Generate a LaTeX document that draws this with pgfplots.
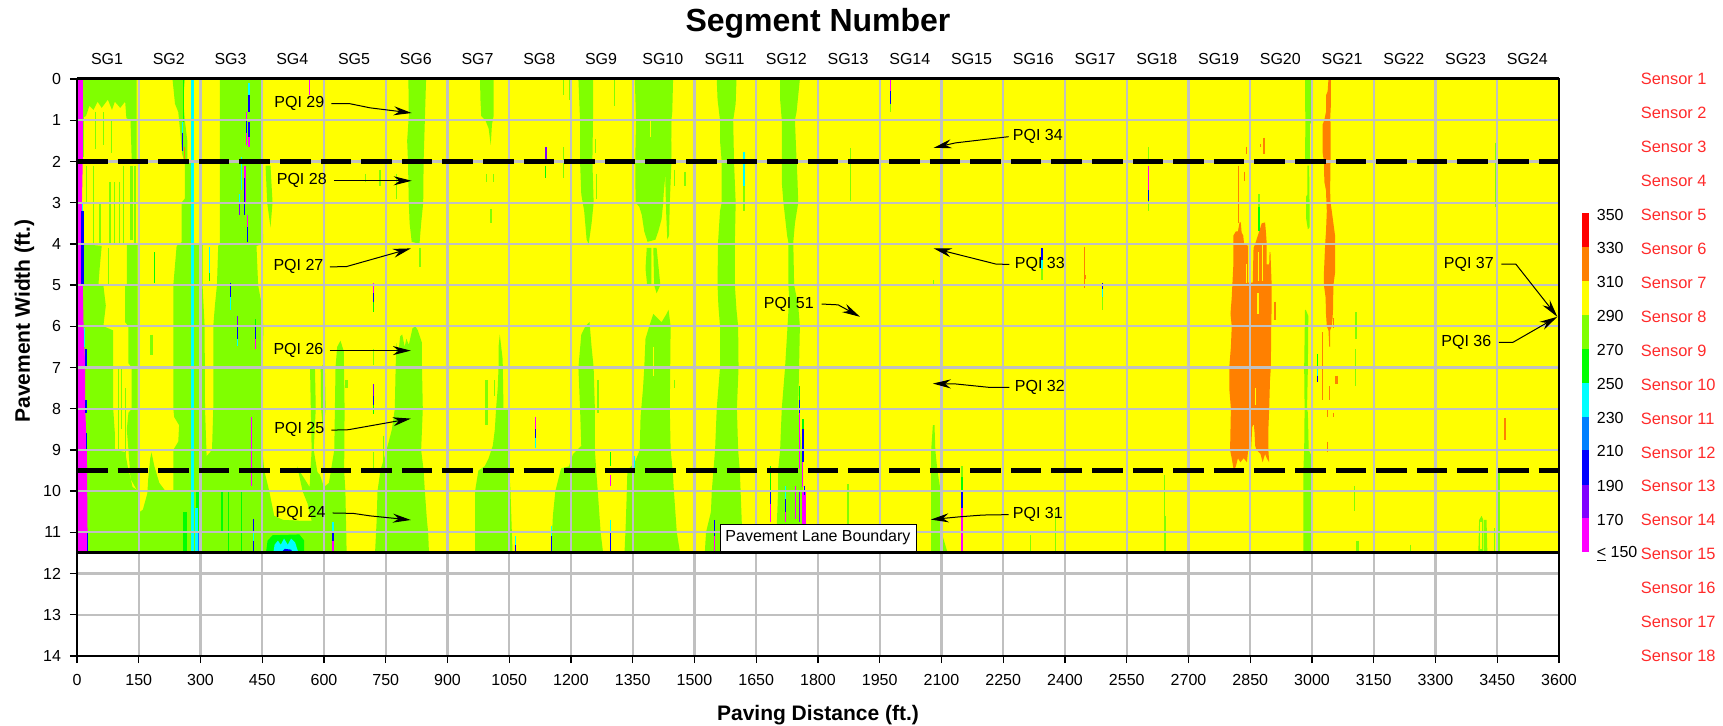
\documentclass[border=0pt]{standalone}
\usepackage{fontspec}
\setmainfont{Liberation Sans}
\usepackage{pgfplots}
\pgfplotsset{compat=1.18}
\usetikzlibrary{arrows.meta}

\definecolor{cLime}{HTML}{80FF00}
\definecolor{cGreen}{HTML}{00FF00}
\definecolor{cCyan}{HTML}{00FFFF}
\definecolor{cAzure}{HTML}{0080FF}
\definecolor{cBlue}{HTML}{0000FF}
\definecolor{cViolet}{HTML}{8000FF}
\definecolor{cMag}{HTML}{FF00FF}
\definecolor{cOrange}{HTML}{FF8000}
\definecolor{cYellow}{HTML}{FFFF00}
\definecolor{cRed}{HTML}{FF0000}
\definecolor{cSensor}{HTML}{FF2A2A}
\definecolor{cGrid}{HTML}{C0C0C0}

\newcommand{\tf}{\fontsize{8}{9}\selectfont}
% filled temperature zone
\newcommand{\zone}[2]{\addplot[fill=#1,draw=none,forget plot] coordinates {#2} --cycle;}
% thin vertical streak: colour, x, y from, y to
\newcommand{\st}[4]{\addplot[draw=#1,line width=.6pt,forget plot] coordinates {(#2,#3)(#2,#4)};}
\newcommand{\wst}[4]{\addplot[draw=#1,line width=1.3pt,forget plot] coordinates {(#2,#3)(#2,#4)};}
\newcommand{\pqi}[3]{\node[font=\tf] at (axis cs:#1,#2) {PQI #3};}

\begin{document}
\begin{tikzpicture}
\path[use as bounding box] (-38.5pt,-35pt) rectangle (823pt,328pt);
\begin{axis}[
    scale only axis, width=741pt, height=288.5pt,
    xmin=0, xmax=3600, ymin=0, ymax=14, y dir=reverse,
    xtick distance=150, ytick distance=1,
    tick align=outside, xtick pos=bottom, ytick pos=left,
    major tick length=3.5pt,
    tick style={black,line width=.7pt},
    grid=major, grid style={cGrid,line width=1.1pt},
    axis on top, axis line style={black,line width=1pt},
    /pgf/number format/assume math mode=true,
    /pgf/number format/1000 sep={},
    tick label style={font=\tf},
    xticklabel style={yshift=-2pt},
    yticklabel style={xshift=-1pt},
    title={Segment Number},
    title style={at={(axis description cs:.5,1.097)},anchor=center,yshift=-6pt,font=\fontsize{16}{18}\selectfont\bfseries},
    xlabel={Paving Distance (ft.)},
    xlabel style={at={(axis description cs:.5,-.1023)},anchor=center,font=\fontsize{10.5}{12}\selectfont\bfseries},
    ylabel={Pavement Width (ft.)},
    ylabel style={at={(axis description cs:-.0355,.5806)},anchor=center,font=\fontsize{10.5}{12}\selectfont\bfseries},
]
\zone{cYellow}{(0,0)(3600,0)(3600,11.5)(0,11.5)}

% SG1 - SG3
\zone{cLime}{(11,0)(145,0)(145,2)(133,2)(130,1)(120,.95)(117,.55)(105,.7)(92,.55)(85,.75)(75,.5)(60,.7)(50,.55)(40,.75)(30,.65)(22,.9)(11,.95)}
\zone{cLime}{(10,4)(60,4.05)(55,4.6)(52,5)(64,5)(70,5.5)(64,6)(88,6.1)(88,8)(92,8.6)(92,9)(117,9.05)(125,9.5)(128,9.6)(135,9.9)(150,10)(153,10.5)(160,10.45)(171,10.05)(173,9.7)(178,9.2)(181,9.06)(188,9.4)(200,9.8)(215,10)(236,10)(236,11.5)(10,11.5)}
\zone{cLime}{(121,4)(147,4)(147,10)(130,9.7)(125,9)(121,8.5)(125,8.1)(133,8)(133,7)(125,6.9)(125,6)(117,5.9)(117,5)(121,5)}
\zone{cLime}{(232,0)(262,0)(258,.5)(262,1)(268,1.5)(268,2)(279,2)(279,11.5)(234,11.5)(234,9)(246,8.8)(248,8.4)(236,8.2)(234,8)(234,5)(242,4.05)(254,3.96)(254,3)(262,2.9)(262,2.05)(255,1.8)(250,1.2)(246,.8)(238,.6)}
\zone{cLime}{(279,4)(305,4)(305,5)(310,6)(311,8)(315,9.2)(315,11.5)(279,11.5)}
\zone{cLime}{(347,0)(449,0)(452,4)(436,4.05)(440,5)(449,5.5)(453,6.1)(449,7)(450,9)(455,9.5)(467,10)(479,10.6)(501,10.7)(540,10.72)(570,10.72)(570,11.5)(300,11.5)(300,9.1)(315,9.15)(328,9)(331,8)(331,6)(335,5.5)(340,5)(343,4.05)(347,4)}
\zone{cLime}{(458,2.1)(470,2.1)(475,3)(470,3.6)(462,3)}
% SG4 - SG5
\zone{cLime}{(535,9.4)(540,9.5)(565,9.9)(580,9.5)(590,9.6)(600,9.9)(612,9.8)(625,9)(628,7)(632,6.5)(640,6.35)(648,6.6)(650,8)(649,9.5)(652,10)(655,11.5)(480,11.5)(480,10.7)(501,10.7)(542,10.72)(570,10.72)(560,10.3)(548,10)}
\zone{cLime}{(566,7)(578,7)(580,8)(575,9)(585,9.6)(565,9.9)(570,9)}
\zone{cLime}{(592,7)(602,6.9)(604,8)(598,8.6)(593,8)}
\zone{cGreen}{(459,11.5)(463,11.2)(475,11.07)(540,11.05)(552,11.2)(552,11.5)}
\zone{cCyan}{(477,11.5)(480,11.3)(488,11.2)(495,11.3)(503,11.15)(512,11.3)(520,11.15)(530,11.25)(538,11.5)}
\zone{cBlue}{(495,11.5)(505,11.4)(520,11.42)(525,11.5)}
% SG6
\zone{cLime}{(805,0)(848,0)(845,1)(842,2)(841,3)(836,3.5)(832,4)(813,3.95)(808,3.5)(806,3)(804,2)(802,1.5)(806,.9)}
\zone{cLime}{(776,6.4)(780,6.7)(785,6.25)(790,6.2)(796,6.5)(800,6.3)(806,6.45)(815,6.05)(822,6)(828,6.1)(838,6.4)(838,7)(840,8)(836,9)(842,9.5)(845,10)(850,10.7)(853,11)(855,11.5)(724,11.5)(728,10.7)(730,10)(737,9.5)(752,9)(765,8.5)(772,8)(774,7)}
% SG7
\zone{cLime}{(979,0)(1012,0)(1012,.9)(1008,1.1)(1005,1.6)(1000,1.2)(992,1)(982,.9)(980,.5)}
\zone{cLime}{(1027,6.2)(1034,6.8)(1036,8)(1048,8)(1048,8.5)(1050,9.5)(1053,10)(1058,11.5)(967,11.5)(967,10)(975,9.5)(990,9.4)(1000,9.2)(1010,8.9)(1015,8.5)(1018,8)(1022,7.5)(1024,7)(1024,6.5)}
% SG9
\zone{cLime}{(1218,0)(1254,0)(1254,.6)(1252,2)(1255,3)(1250,3.5)(1243,4)(1238,3.9)(1232,3.2)(1225,2.8)(1222,2)(1222,1)(1220,.5)}
\zone{cLime}{(1218,7)(1225,6.2)(1235,6)(1245,5.9)(1250,6.5)(1255,7)(1258,8)(1258,9)(1262,9.6)(1265,10)(1272,11)(1278,11.5)(1152,11.5)(1156,10.6)(1162,10)(1172,9.6)(1176,9.45)(1195,9.4)(1205,9.1)(1225,8.9)(1222,8)(1220,7.5)}
% SG10
\zone{cLime}{(1355,0)(1448,0)(1446,.8)(1444,1)(1443,1.9)(1432,2)(1425,2.8)(1424,3)(1420,3.4)(1412,3.7)(1405,3.9)(1386,3.95)(1378,3.7)(1372,3.3)(1366,3.1)(1357,3)(1356,2)(1358,1)}
\zone{cLime}{(1426,1)(1443,1)(1444,2)(1440,3)(1438,3.8)(1434,3.9)(1431,3.2)(1428,2)}
\zone{cLime}{(1384,4.1)(1395,4.1)(1395,5)(1385,5)(1381,4.6)}
\zone{cLime}{(1400,4.1)(1408,4.1)(1417,5)(1408,5.2)(1402,5)}
\zone{cLime}{(1390,6)(1400,5.7)(1420,5.9)(1432,5.7)(1437,5.6)(1442,6)(1441,7)(1440,8)(1442,9)(1447,9.5)(1450,10)(1457,11)(1465,11.5)(1330,11.5)(1333,10.8)(1335,10.2)(1337,9.5)(1355,9.3)(1367,9)(1369,8.2)(1375,7.5)(1378,7)(1381,6.3)}
% SG11, SG12
\zone{cLime}{(1554,0)(1602,0)(1600,.6)(1594,1)(1596,2)(1598,2.5)(1600,3)(1598,4)(1598,5)(1602,5.6)(1606,6)(1607,7)(1603,8)(1606,9)(1610,9.5)(1612,10)(1615,10.8)(1618,11.5)(1525,11.5)(1528,11)(1540,10.5)(1542,10)(1546,9.5)(1550,9)(1554,8)(1562,7)(1562,6)(1558,5.5)(1556,5)(1557,4)(1562,3.2)(1566,3)(1566,2)(1562,1.5)(1562,1)(1556,.5)}
\zone{cLime}{(1708,0)(1756,0)(1748,.8)(1744,1)(1748,2)(1750,2.4)(1752,3)(1744,3.5)(1740,3.96)(1742,5)(1752,5.5)(1756,6)(1754,7)(1752,8)(1760,9)(1764,9.5)(1764,11.5)(1695,11.5)(1700,10.8)(1703,10)(1703,9.5)(1708,9)(1712,8)(1720,7)(1726,6)(1730,5.3)(1728,5)(1728,3.96)(1725,3.8)(1716,3)(1712,2.5)(1712,1)(1708,.5)}
% SG14, SG20
\zone{cLime}{(2079,8.4)(2083,8.4)(2085,9)(2090,9.5)(2098,10)(2100,11)(2115,11.5)(2075,11.5)(2075,9)}
\zone{cLime}{(2983,0)(2999,0)(2998,1.05)(2995,1.1)(2995,1.94)(2983,2)(2984,1)(2983,.5)}
\zone{cLime}{(2989,2.1)(2993,2.1)(2994,3)(2994,3.6)(2990,3.65)(2986,3.4)(2986,2.85)(2989,2.8)}
\zone{cLime}{(2983,5.6)(2985,5.6)(2991,5.75)(2990,7)(2988,8)(2990,8.1)(2992,9)(2997,9.1)(2999,10)(2999,11.5)(2979,11.5)(2979,9.5)(2981,9)(2982,8)(2981,7)}
% SG23
\zone{cLime}{(3404,11.5)(3406,10.7)(3412,10.6)(3416,10.7)(3416,11.5)}
\zone{cYellow}{(3408,11.4)(3408,10.75)(3413,10.75)(3413,11.4)}
\zone{cLime}{(3418,10.7)(3424,10.7)(3426,11.5)(3418,11.5)}

% orange zones, SG19 and SG21
\zone{cOrange}{(2824,3.48)(2827,3.48)(2829,3.72)(2833,3.8)(2835,4)(2845,4.05)(2845,4.94)(2856,4.94)(2858,4.1)(2862,4)(2870,3.75)(2878,3.5)(2886,3.48)(2888,3.7)(2890,4)(2890,4.5)(2896,4.5)(2897,4.2)(2899,4.2)(2902,5)(2902,5.5)(2901,6)(2900,7)(2898,7.3)(2896,8)(2894,8.5)(2894,9)(2896,9.3)(2890,9.2)(2886,9.1)(2880,9.3)(2875,9.1)(2865,9)(2862,8.9)(2860,8.5)(2855,8.4)(2852,9)(2845,9)(2842,9.3)(2834,9.2)(2826,9.3)(2820,9.2)(2815,9.4)(2810,9.5)(2805,9.2)(2801,9)(2802,8.5)(2803,8)(2799,7.5)(2799,7)(2803,6.5)(2805,6)(2802,5.7)(2805,5.3)(2809,4.5)(2809,3.8)(2815,3.7)(2820,3.7)}
\zone{cOrange}{(3040,0)(3046,0)(3046,.6)(3044,1)(3045,1.05)(3045,2)(3044,2.7)(3045,3)(3048,3.2)(3052,3.5)(3056,3.8)(3056,4.7)(3052,5)(3051,5.6)(3050,5.8)(3048,6)(3044,6.1)(3044,6.5)(3042,6.5)(3040,6.1)(3036,6)(3034,5.7)(3033,5.3)(3029,5)(3029,4.7)(3032,4)(3034,3.7)(3036,3.2)(3035,3)(3034,2.7)(3030,2.5)(3029,2)(3026,1.8)(3026,1.1)(3030,1)(3034,.8)(3034,.4)(3038,.3)}

% thin lime streaks
\st{cLime}{15}{.8}{1.9} \st{cLime}{44}{.8}{1.7} \st{cLime}{64}{.8}{1.6} \st{cLime}{84}{1}{1.8}
\st{cLime}{23}{2.1}{3} \st{cLime}{40}{2.1}{4} \st{cLime}{56}{3}{4} \wst{cLime}{80}{2.5}{4}
\st{cLime}{92}{2.5}{4} \st{cLime}{104}{2.5}{4} \st{cLime}{113}{2.1}{4} \wst{cLime}{133}{2.1}{3.9}
\wst{cLime}{141}{2.1}{4} \st{cLime}{76}{4.1}{5} \st{cLime}{100}{7}{9} \st{cLime}{108}{7}{8.5}
\st{cLime}{117}{7.5}{9.5} \wst{cLime}{181}{6.2}{6.7} \st{cGreen}{188}{4.2}{4.95}
\st{cLime}{736}{2.2}{2.6} \st{cLime}{776}{2.3}{2.9} \st{cLime}{700}{2.3}{2.5} \st{cLime}{833}{4.1}{4.55}
\st{cLime}{995}{2.3}{2.5} \st{cLime}{1011}{2.3}{2.5} \wst{cLime}{1006}{3.15}{3.5}
\st{cLime}{1181}{1.65}{2.4} \st{cLime}{1181}{0}{.4} \st{cLime}{1197}{0}{.5}
\st{cLime}{720}{6.55}{6.95} \st{cLime}{720}{9.05}{9.45} \wst{cLime}{995}{7.3}{8.4} \st{cLime}{1015}{7.3}{7.7}
\st{cLime}{744}{8.65}{9.47} \wst{cLime}{655}{7.3}{7.5} \st{cLime}{1262}{2.3}{2.9} \st{cLime}{1250}{2.3}{3}
\st{cLime}{1305}{0}{.65} \st{cLime}{1260}{1.45}{1.8} \st{cLime}{1477}{2.25}{2.6} \st{cLime}{1452}{2.2}{2.6}
\wst{cLime}{1266}{7.3}{8.1} \st{cLime}{1452}{7.3}{7.5} \st{cLime}{1879}{1.68}{2.95}
\st{cLime}{1873}{9.83}{10.9} \st{cLime}{2316}{11.07}{11.5} \st{cLime}{2377}{10.5}{11.5}
\st{cLime}{2641}{9.6}{10.6} \wst{cLime}{2643}{10.6}{11.5} \st{cLime}{2080}{4.88}{5}
\wst{cLime}{3107}{5.66}{6.3} \st{cLime}{3105}{6.55}{7.44} \st{cLime}{3104}{9.87}{10.48} \wst{cLime}{3111}{11.2}{11.5}
\st{cLime}{3445}{1.56}{3.1} \st{cLime}{3454}{9.5}{11.5} \st{cLime}{3240}{11.3}{11.5}
\st{cLime}{2492}{5.2}{5.6} \st{cLime}{3444}{10.9}{11.5} \st{cLime}{2100}{10.9}{11.3}
% yellow slits in the zones
\st{cYellow}{2869}{5.2}{5.7} \st{cYellow}{2862}{7.5}{7.9} \st{cYellow}{2840}{4.5}{4.95}
\st{cYellow}{2857}{8.4}{8.9} \st{cYellow}{2870}{4.2}{4.9} \st{cYellow}{2880}{4}{4.9} \st{cYellow}{1400}{6.5}{7.2}
\st{cYellow}{1394}{1}{1.4} \st{cYellow}{312}{3.1}{3.9}

% orange streaks
\st{cOrange}{2822}{2.1}{3.5} \st{cOrange}{2836}{2.25}{2.47} \st{cOrange}{2840}{1.65}{1.82}
\st{cOrange}{2874}{1.58}{1.66} \wst{cOrange}{2883}{1.42}{1.82} \wst{cOrange}{2910}{5.4}{5.85}
\st{cOrange}{3026}{6.15}{7.8} \st{cOrange}{3042}{7.45}{7.8} \st{cOrange}{3038}{8}{8.2} \st{cOrange}{3052}{8.1}{8.2}
\st{cOrange}{3038}{8.8}{9.05} \wst{cOrange}{3060}{7.2}{7.4} \st{cOrange}{3052}{5.8}{6.05} \st{cOrange}{3469}{8.23}{8.76}
\st{cOrange}{2448}{4.07}{5.08} \wst{cOrange}{2449}{4.75}{4.85}

% coloured streaks
\zone{cMag}{(0,0)(14,0)(14,2)(12,3)(12,5)(14,5)(16,6)(20,7)(20,8)(24,9)(26,11.5)(0,11.5)}
\wst{cBlue}{13}{3.2}{5} \st{cCyan}{13}{3}{3.2} \st{cCyan}{19}{6.05}{6.5} \st{cBlue}{22}{6.55}{7}
\st{cBlue}{22}{7.8}{8.1} \st{cBlue}{23}{8.6}{9} \st{cBlue}{26}{11}{11.5}
\zone{cGreen}{(258,10.5)(266,10.5)(266,11.5)(258,11.5)}
\zone{cGreen}{(288,10)(298,10)(298,11.5)(288,11.5)}
\wst{cCyan}{280}{0}{11.5}
\wst{cCyan}{291}{10.4}{11.5} \st{cAzure}{296}{11}{11.5}
\st{cGreen}{258}{0}{1.05} \st{cCyan}{256}{1.05}{1.3} \st{cBlue}{256}{1.3}{1.75} \st{cOrange}{261}{1.65}{1.95}
\st{cGreen}{368}{10}{11.5} \st{cGreen}{400}{10}{11.5} \st{cGreen}{352}{10}{11}
\st{cCyan}{418}{.1}{.4} \st{cBlue}{418}{.4}{.8} \st{cMag}{412}{.8}{1} \st{cBlue}{412}{1}{1.3} \st{cMag}{412}{1.3}{1.6}
\st{cBlue}{418}{1.05}{1.4} \st{cMag}{418}{1.4}{1.65}
\st{cCyan}{400}{1.9}{2.7} \st{cMag}{408}{2.1}{3} \st{cBlue}{406}{2.4}{3.3} \st{cCyan}{394}{2.8}{3} \st{cViolet}{394}{3}{3.3}
\st{cMag}{415}{3.3}{3.6} \st{cBlue}{415}{3.6}{3.95}
\st{cCyan}{322}{4.08}{4.7} \st{cGreen}{322}{4.7}{4.9} \st{cBlue}{372}{4.95}{5.3} \st{cCyan}{372}{5.3}{5.6}
\st{cViolet}{390}{5.76}{6} \st{cBlue}{390}{6}{6.3} \st{cCyan}{390}{6.3}{6.47}
\st{cGreen}{433}{5.83}{6} \st{cBlue}{433}{6}{6.3} \st{cMag}{433}{6.3}{6.55}
\st{cMag}{424}{8.2}{9.87} \st{cBlue}{428}{10.68}{11} \st{cCyan}{428}{11}{11.2} \st{cBlue}{428}{11.2}{11.5}
\st{cMag}{564}{0}{.4}
\st{cMag}{720}{4.95}{5.2} \st{cBlue}{720}{5.2}{5.4} \st{cGreen}{720}{5.4}{5.66}
\st{cViolet}{720}{7.4}{7.7} \st{cBlue}{720}{7.7}{7.9} \st{cGreen}{720}{7.9}{8.13}
\st{cMag}{1114}{8.2}{8.5} \st{cBlue}{1114}{8.5}{8.7} \st{cCyan}{1114}{8.7}{8.95}
\wst{cViolet}{1139}{1.65}{2} \st{cGreen}{1139}{2.1}{2.4}
\st{cCyan}{622}{10.75}{11} \st{cBlue}{622}{11}{11.2} \st{cMag}{622}{11.2}{11.5}
\st{cCyan}{1066}{11.1}{11.3} \st{cBlue}{1066}{11.3}{11.5} \st{cCyan}{1153}{10.85}{11.1} \st{cBlue}{1153}{11.1}{11.5}
\st{cGreen}{1296}{9.06}{9.4} \st{cMag}{1296}{9.6}{9.87} \st{cCyan}{1296}{10.7}{11} \st{cBlue}{1296}{11}{11.5}
\st{cCyan}{1355}{9.15}{9.5}
\st{cBlue}{1548}{10.7}{11.1} \st{cMag}{1548}{11.1}{11.5}
\st{cCyan}{1620}{1.76}{2.6} \st{cLime}{1620}{2.6}{3.2}
\st{cGreen}{1685}{9.4}{10} \st{cBlue}{1685}{10}{10.3} \st{cMag}{1685}{10.3}{10.75}
\st{cCyan}{1722}{9.87}{10.2} \st{cBlue}{1722}{10.2}{10.5} \st{cMag}{1722}{10.5}{10.75}
\st{cMag}{1746}{9.87}{10.68} \st{cViolet}{1755}{10}{10.75}
\st{cGreen}{1756}{7.44}{7.8} \st{cBlue}{1756}{7.8}{8.1} \st{cMag}{1756}{8.1}{9.47}
\wst{cGreen}{1764}{8.25}{8.5} \wst{cBlue}{1764}{8.5}{9.3} \st{cMag}{1762}{9.3}{9.9}
\zone{cMag}{(1760,10)(1771,10)(1771,11.5)(1760,11.5)}
\st{cBlue}{1767}{9.87}{10.1}
\st{cLime}{2150}{9.4}{9.66} \st{cGreen}{2150}{9.66}{10} \st{cBlue}{2150}{10}{10.4} \st{cMag}{2150}{10.4}{11.5}
\st{cLime}{2344}{4.6}{4.88} \st{cBlue}{2344}{4.11}{4.4} \st{cCyan}{2344}{4.4}{4.6}
\st{cBlue}{2492}{4.96}{5.1} \st{cCyan}{2492}{5.1}{5.3}
\st{cMag}{1977}{0}{.3} \st{cBlue}{1977}{.3}{.6} \st{cLime}{1977}{.6}{.8}
\st{cLime}{2602}{1.65}{2} \st{cMag}{2602}{2.1}{2.7} \st{cBlue}{2602}{2.7}{2.95} \st{cLime}{2602}{2.95}{3.2}
\st{cLime}{2871}{2.8}{3.1} \st{cGreen}{2871}{3.1}{3.7}
\st{cGreen}{3014}{6.67}{7} \st{cCyan}{3014}{7}{7.2} \st{cBlue}{3014}{7.2}{7.36}
\end{axis}

% overlay: black boundaries, annotations, segment and sensor labels, colour key
\begin{axis}[
    scale only axis, width=741pt, height=288.5pt,
    xmin=0, xmax=3600, ymin=0, ymax=14, y dir=reverse,
    clip=false,
    axis line style={draw=none},
    major tick length=0pt,
    xtick={73,223,373,523,673,823,973,1123,1273,1423,1573,1723,1873,2023,2173,2323,2473,2623,2773,2923,3073,3223,3373,3523},
    xticklabels={SG1,SG2,SG3,SG4,SG5,SG6,SG7,SG8,SG9,SG10,SG11,SG12,SG13,SG14,SG15,SG16,SG17,SG18,SG19,SG20,SG21,SG22,SG23,SG24},
    xticklabel pos=top,
    xticklabel style={font=\tf,yshift=3.8pt},
    ytick={0,.8235,1.647,2.47,3.294,4.118,4.941,5.765,6.588,7.412,8.235,9.059,9.882,10.706,11.529,12.353,13.176,14},
    yticklabels={Sensor 1,Sensor 2,Sensor 3,Sensor 4,Sensor 5,Sensor 6,Sensor 7,Sensor 8,Sensor 9,Sensor 10,Sensor 11,Sensor 12,Sensor 13,Sensor 14,Sensor 15,Sensor 16,Sensor 17,Sensor 18},
    yticklabel pos=right,
    yticklabel style={font=\fontsize{8.2}{9}\selectfont,text=cSensor,anchor=west,xshift=37.4pt},
]
\addplot[black,line width=2.7pt,dash pattern=on 15.3pt off 5pt] coordinates {(0,2)(3600,2)};
\addplot[black,line width=2.7pt,dash pattern=on 15.3pt off 5pt] coordinates {(0,9.5)(3600,9.5)};
\addplot[black,line width=1.5pt] coordinates {(0,0)(3600,0)};
\addplot[black,line width=1.5pt] coordinates {(0,11.5)(3600,11.5)};

% colour key
\zone{cRed}{(3655,3.26)(3673,3.26)(3673,4.08)(3655,4.08)}
\zone{cOrange}{(3655,4.08)(3673,4.08)(3673,4.9)(3655,4.9)}
\zone{cYellow}{(3655,4.9)(3673,4.9)(3673,5.72)(3655,5.72)}
\zone{cLime}{(3655,5.72)(3673,5.72)(3673,6.55)(3655,6.55)}
\zone{cGreen}{(3655,6.55)(3673,6.55)(3673,7.37)(3655,7.37)}
\zone{cCyan}{(3655,7.37)(3673,7.37)(3673,8.19)(3655,8.19)}
\zone{cAzure}{(3655,8.19)(3673,8.19)(3673,9)(3655,9)}
\zone{cBlue}{(3655,9)(3673,9)(3673,9.84)(3655,9.84)}
\zone{cViolet}{(3655,9.84)(3673,9.84)(3673,10.66)(3655,10.66)}
\zone{cMag}{(3655,10.66)(3673,10.66)(3673,11.48)(3655,11.48)}
\foreach \v/\p in {350/3.29,330/4.11,310/4.93,290/5.75,270/6.58,250/7.4,230/8.22,210/9.03,190/9.87,170/10.69}
  {\edef\temp{\noexpand\node[font=\noexpand\tf,anchor=west,inner sep=0pt] at (axis cs:3691,\p) {\v};}\temp}
\node[font=\tf,anchor=west,inner sep=0pt] at (axis cs:3691,11.52) {\underline{<} 150};

% PQI call-outs
\tikzset{pq/.style={black,line width=.5pt,-{Stealth[length=9pt,width=4.5pt]}}}
\pqi{540}{.6}{29}
\draw[pq] (axis cs:618,.6) -- (axis cs:663,.6) -- (axis cs:712,.7) -- (axis cs:813,.825);
\pqi{546}{2.47}{28}
\draw[pq] (axis cs:624,2.47) -- (axis cs:813,2.47);
\pqi{538}{4.55}{27}
\draw[pq] (axis cs:614,4.56) -- (axis cs:655,4.55) -- (axis cs:811,4.11);
\pqi{538}{6.58}{26}
\draw[pq] (axis cs:614,6.59) -- (axis cs:811,6.59);
\pqi{540}{8.51}{25}
\draw[pq] (axis cs:618,8.52) -- (axis cs:659,8.51) -- (axis cs:811,8.24);
\pqi{543}{10.54}{24}
\draw[pq] (axis cs:621,10.53) -- (axis cs:671,10.54) -- (axis cs:712,10.6) -- (axis cs:811,10.7);
\pqi{2334}{1.4}{34}
\draw[pq] (axis cs:2263,1.4) -- (axis cs:2134,1.55) -- (axis cs:2081,1.67);
\pqi{2339}{4.49}{33}
\draw[pq] (axis cs:2265,4.5) -- (axis cs:2232,4.49) -- (axis cs:2081,4.11);
\pqi{2339}{7.48}{32}
\draw[pq] (axis cs:2265,7.48) -- (axis cs:2214,7.48) -- (axis cs:2135,7.4) -- (axis cs:2079,7.39);
\pqi{2334}{10.56}{31}
\draw[pq] (axis cs:2263,10.57) -- (axis cs:2200,10.58) -- (axis cs:2147,10.62) -- (axis cs:2074,10.69);
\pqi{1729}{5.46}{51}
\draw[pq] (axis cs:1809,5.46) -- (axis cs:1849,5.48) -- (axis cs:1902,5.77);
\pqi{3381}{4.49}{37}
\draw[pq] (axis cs:3460,4.49) -- (axis cs:3495,4.49) -- (axis cs:3596,5.77);
\pqi{3375}{6.39}{36}
\draw[pq] (axis cs:3454,6.39) -- (axis cs:3488,6.39) -- (axis cs:3596,5.77);

\node[draw=black,line width=.5pt,fill=white,font=\tf,minimum width=98pt,minimum height=13.5pt,inner sep=0pt,anchor=south]
  at (axis cs:1800,11.47) {Pavement Lane Boundary};
\end{axis}
\end{tikzpicture}
\end{document}
